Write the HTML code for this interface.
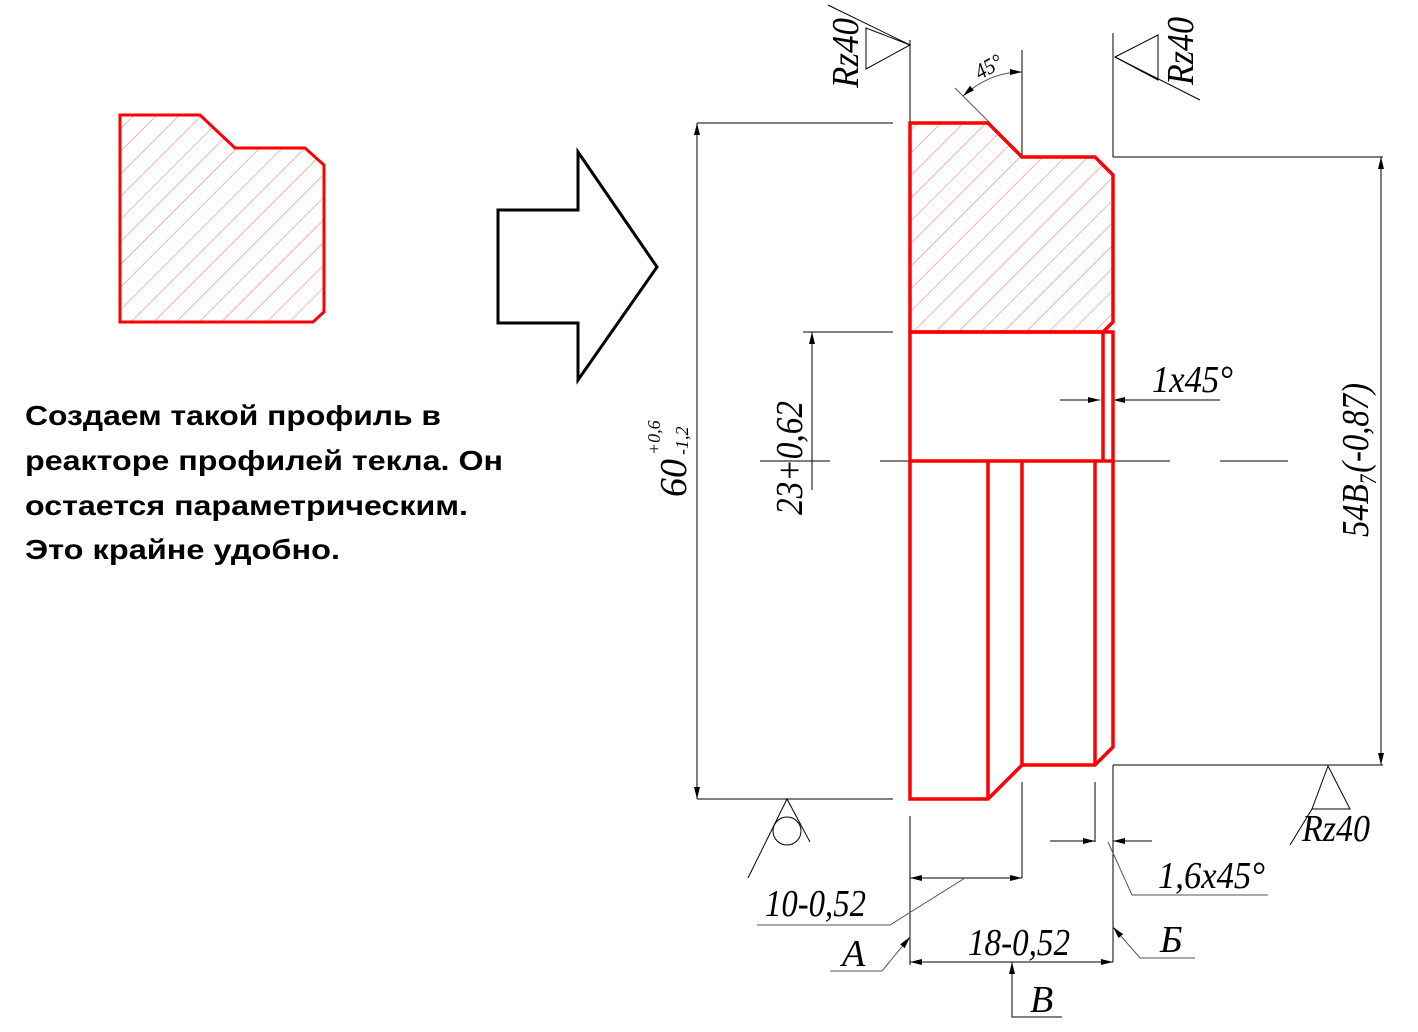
<!DOCTYPE html>
<html><head><meta charset="utf-8"><style>body{margin:0;background:#fff}svg{display:block}</style></head><body>
<svg width="1418" height="1032" viewBox="0 0 1418 1032" xmlns="http://www.w3.org/2000/svg">
<defs>
<pattern id="h" patternUnits="userSpaceOnUse" width="16" height="16" patternTransform="rotate(45)"><line x1="0" y1="0" x2="0" y2="16" stroke="#f66" stroke-width="1"/></pattern>
<marker id="a" viewBox="0 0 12 6" refX="12" refY="3" markerWidth="12" markerHeight="6" orient="auto-start-reverse" markerUnits="userSpaceOnUse"><path d="M0,0L12,3L0,6z" fill="#000"/></marker>
</defs>
<g font-family="Liberation Sans, sans-serif" font-weight="bold" font-size="28" fill="#000" lengthAdjust="spacingAndGlyphs">
<text x="25" y="425" textLength="416" lengthAdjust="spacingAndGlyphs">Создаем такой профиль в</text>
<text x="25" y="470" textLength="478" lengthAdjust="spacingAndGlyphs">реакторе профилей текла. Он</text>
<text x="25" y="515" textLength="443" lengthAdjust="spacingAndGlyphs">остается параметрическим.</text>
<text x="25" y="559" textLength="315" lengthAdjust="spacingAndGlyphs">Это крайне удобно.</text>
</g>
<polygon points="120,115 200,115 235,148 305,148 324,165 324,312 313,322 120,322" fill="url(#h)" stroke="#f00" stroke-width="3"/>
<polygon points="498,210 578,210 578,152 657,267 578,380 578,323 498,323" fill="#fff" stroke="#000" stroke-width="3"/>
<g stroke="#000" stroke-width="1" fill="none">
<line x1="697" y1="123" x2="893" y2="123"/><line x1="697" y1="799" x2="893" y2="799"/>
<line x1="697" y1="123" x2="697" y2="799" marker-start="url(#a)" marker-end="url(#a)"/>
<line x1="803" y1="332" x2="893" y2="332"/>
<line x1="812" y1="332" x2="812" y2="490" marker-start="url(#a)"/>
<line x1="760" y1="461" x2="830" y2="461"/><line x1="880" y1="461" x2="1170" y2="461"/><line x1="1220" y1="461" x2="1288" y2="461"/>
<line x1="1113" y1="157" x2="1383" y2="157"/><line x1="1113" y1="765" x2="1383" y2="765"/>
<line x1="1381" y1="157" x2="1381" y2="765" marker-start="url(#a)" marker-end="url(#a)"/>
<line x1="1060" y1="400" x2="1100" y2="400" marker-end="url(#a)"/>
<line x1="1113" y1="400" x2="1220" y2="400" marker-start="url(#a)"/>
<line x1="910" y1="40" x2="910" y2="123"/><line x1="1022" y1="50" x2="1022" y2="157"/><line x1="1113" y1="33" x2="1113" y2="157"/>
<line x1="910" y1="816" x2="910" y2="965"/><line x1="1022" y1="782" x2="1022" y2="878"/><line x1="1095" y1="782" x2="1095" y2="842"/><line x1="1113" y1="765" x2="1113" y2="962"/>
<line x1="910" y1="878" x2="1022" y2="878" marker-start="url(#a)" marker-end="url(#a)"/>
<polyline points="965,878 890,925 757,925" stroke="#555"/>
<line x1="910" y1="962" x2="1113" y2="962" marker-start="url(#a)" marker-end="url(#a)"/>
<polyline points="1062,1017 1012,1017 1012,962" marker-end="url(#a)" />
<polyline points="830,971 882,971 910,937" stroke="#555" marker-end="url(#a)"/>
<polyline points="1195,958 1140,958 1113,927" stroke="#555" marker-end="url(#a)"/>
<line x1="1050" y1="841" x2="1095" y2="841" marker-end="url(#a)"/>
<line x1="1113" y1="841" x2="1152" y2="841" marker-start="url(#a)"/>
<polyline points="1108,842 1132,895 1268,895" stroke="#555"/>
<polygon points="1328,766 1312,809 1350,809"/><line x1="1312" y1="809" x2="1290" y2="845"/>
<circle cx="787" cy="831" r="14"/><polyline points="748,878 787,799 810,842"/>
<polygon points="910,45 866,28 866,69"/><line x1="828" y1="5" x2="910" y2="45"/>
<polygon points="1115,57 1158,35 1158,80"/><line x1="1115" y1="57" x2="1200" y2="100"/>
<line x1="955" y1="88" x2="990" y2="123" stroke="#555"/>
<path d="M963,96 Q990,72 1022,72" marker-start="url(#a)" marker-end="url(#a)" stroke="#555"/>
</g>
<g fill="none" stroke="#f00" stroke-width="3.5">
<polygon points="910,123 988,123 1022,157 1095,157 1113,175 1113,322 1103,332 910,332" fill="url(#h)"/>
<rect x="910" y="332" width="203" height="129"/>
<line x1="1103" y1="332" x2="1103" y2="461"/>
<polyline points="910,461 910,799 988,799 1022,765 1095,765 1113,747 1113,461"/>
<line x1="988" y1="461" x2="988" y2="799"/><line x1="1022" y1="461" x2="1022" y2="765"/><line x1="1095" y1="461" x2="1095" y2="765"/>
</g>
<g font-family="Liberation Serif, serif" font-style="italic" fill="#000" font-size="38">
<text transform="translate(686,497) rotate(-90)" textLength="38" lengthAdjust="spacingAndGlyphs">60</text>
<text transform="translate(660,455) rotate(-90)" font-size="18">+0,6</text>
<text transform="translate(688,455) rotate(-90)" font-size="18">-1,2</text>
<text transform="translate(802,515) rotate(-90)" textLength="114" lengthAdjust="spacingAndGlyphs">23+0,62</text>
<text transform="translate(1368,537) rotate(-90)" textLength="154" lengthAdjust="spacingAndGlyphs">54B₇(-0,87)</text>
<text x="1152" y="392" textLength="81" lengthAdjust="spacingAndGlyphs">1x45°</text>
<text transform="translate(858,88) rotate(-90)" textLength="70" lengthAdjust="spacingAndGlyphs">Rz40</text>
<text transform="translate(1193,85) rotate(-90)" textLength="68" lengthAdjust="spacingAndGlyphs">Rz40</text>
<text transform="translate(980,80) rotate(-30)" font-size="22" textLength="28" lengthAdjust="spacingAndGlyphs">45°</text>
<text x="1302" y="841" textLength="68" lengthAdjust="spacingAndGlyphs">Rz40</text>
<text x="765" y="916" textLength="101" lengthAdjust="spacingAndGlyphs">10-0,52</text>
<text x="968" y="955" textLength="102" lengthAdjust="spacingAndGlyphs">18-0,52</text>
<text x="1158" y="888" textLength="107" lengthAdjust="spacingAndGlyphs">1,6x45°</text>
<text x="842" y="966">А</text>
<text x="1160" y="952">Б</text>
<text x="1030" y="1012">В</text>
</g>
</svg>
</body></html>
